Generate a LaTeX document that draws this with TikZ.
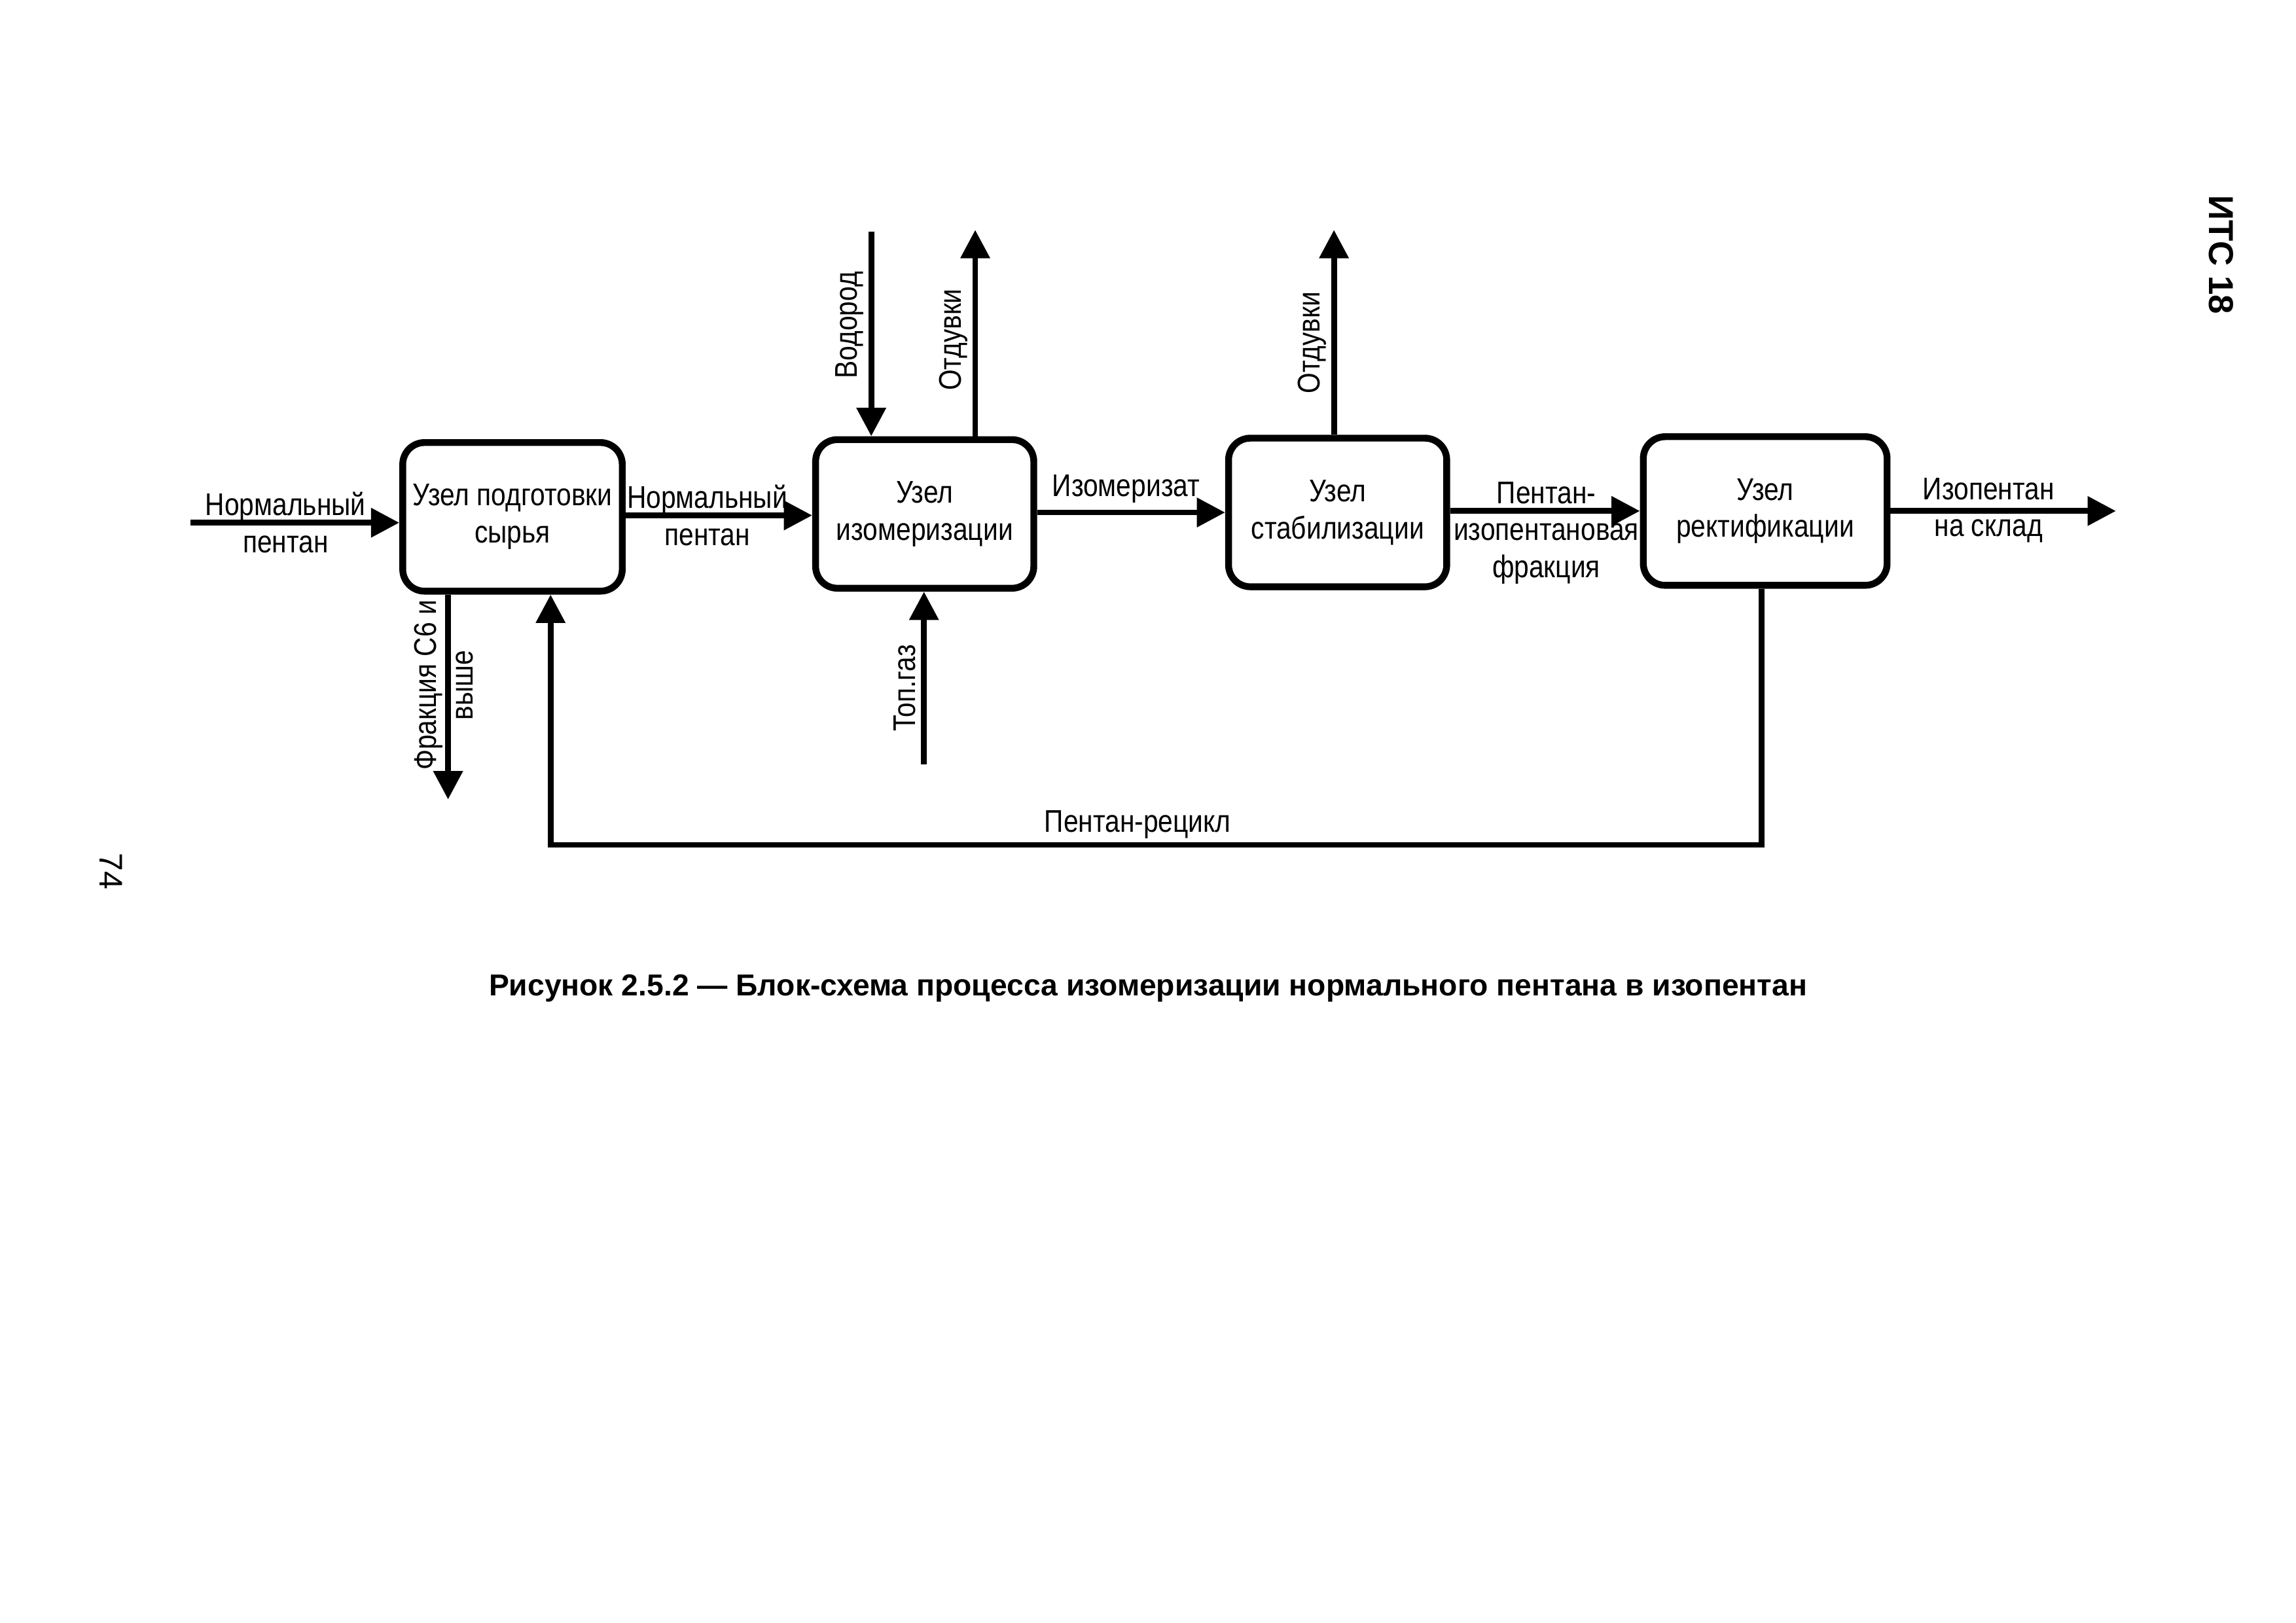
\documentclass[tikz,border=0pt]{standalone}
\usepackage{fontspec}
\setmainfont{Liberation Sans}
\newfontfamily\nf{Liberation Sans}[FakeStretch=0.85]
\usetikzlibrary{arrows.meta}
\begin{document}
\begin{tikzpicture}[x=0.53694pt,y=-0.53694pt,
 unit/.style={draw, line width=2.5pt, rounded corners=8pt, minimum height=54.5pt, align=center, font=\nf\fontsize{11.5}{13.6}\selectfont, inner sep=0pt},
 flow/.style={line width=2.1pt, -{Triangle[length=10.4pt,width=10.4pt]}},
 lbl/.style={font=\nf\fontsize{11.5}{13.6}\selectfont, align=center, inner sep=0pt}]
\useasboundingbox (0,0) rectangle (1568,1108.07);

% units
\node[unit, minimum width=80.5pt] (b1) at (350,353) {Узел подготовки\\сырья};
\node[unit, minimum width=80pt] (b2) at (631.5,351) {Узел\\изомеризации};
\node[unit, minimum width=80pt] (b3) at (913.5,350) {Узел\\стабилизации};
\node[unit, minimum width=89.4pt] (b4) at (1205.5,349) {Узел\\ректификации};

% coordinates
\coordinate (inS) at (130,357);
\coordinate (c12) at (0,352);
\coordinate (c23) at (0,350);
\coordinate (c34) at (0,349);
\coordinate (out) at (1445,349);
\coordinate (h2) at (595,158);
\coordinate (o1) at (666,157);
\coordinate (g) at (631,522);
\coordinate (f) at (306,546);
\coordinate (o2) at (911,157);
\coordinate (r1) at (1203,577);
\coordinate (r2) at (376,577);

% connectors
\draw[flow] (inS) -- (inS -| b1.west);
\draw[flow] (c12 -| b1.east) -- (c12 -| b2.west);
\draw[flow] (c23 -| b2.east) -- (c23 -| b3.west);
\draw[flow] (c34 -| b3.east) -- (c34 -| b4.west);
\draw[flow] (out -| b4.east) -- (out);
\draw[flow] (h2) -- (h2 |- b2.north);
\draw[flow] (o1 |- b2.north) -- (o1);
\draw[flow] (g) -- (g |- b2.south);
\draw[flow] (f |- b1.south) -- (f);
\draw[flow] (o2 |- b3.north) -- (o2);
\draw[flow] (b4.south -| r1) -- (r1) -- (r2) -- (r2 |- b1.south);

% labels
\node[lbl] (l1) at (195,357) {Нормальный\\пентан};
\node[lbl] (l2) at (483,352) {Нормальный\\пентан};
\node[lbl] (l3) at (769,334) {Изомеризат};
\node[lbl] (l4) at (1056,364) {Пентан-\\изопентановая\\фракция};
\node[lbl] (l5) at (1358,348.5) {Изопентан\\на склад};
\node[lbl] (l6) at (777,563) {Пентан-рецикл};
\node[lbl, rotate=90] (l7) at (580,222) {Водород};
\node[lbl, rotate=90] (l8) at (651,232) {Отдувки};
\node[lbl, rotate=90] (l9) at (896,234) {Отдувки};
\node[lbl, rotate=90] (l10) at (618,470) {Топ.газ};
\node[lbl, rotate=90] (l11) at (303,468) {Фракция С6 и\\выше};

% page texts
\node[inner sep=0pt, font=\bfseries\fontsize{11.1}{13}\selectfont] (cap) at (784,675) {Рисунок 2.5.2 — Блок-схема процесса изомеризации нормального пентана в изопентан};
\node[inner sep=0pt, rotate=-90, font=\bfseries\fontsize{12.7}{15}\selectfont] (its) at (1517,174) {ИТС 18};
\node[inner sep=0pt, rotate=-90, font=\fontsize{12}{14}\selectfont] (pg) at (76,595) {74};
\end{tikzpicture}
\end{document}
